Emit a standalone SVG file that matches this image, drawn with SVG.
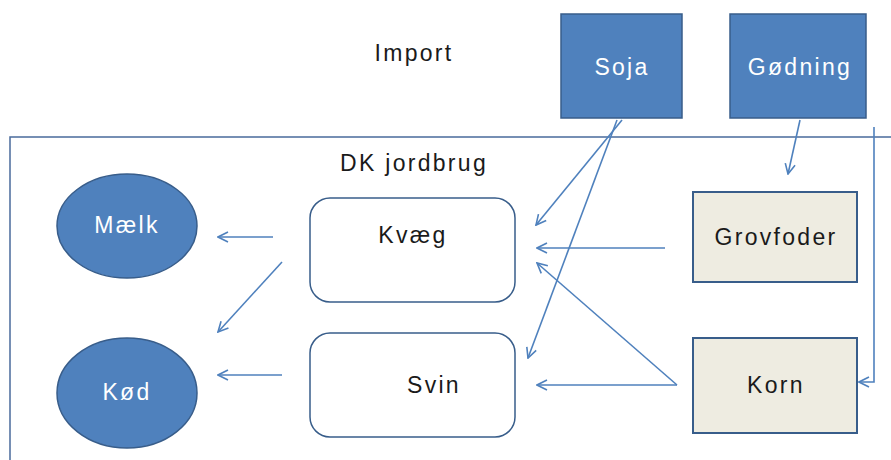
<svg xmlns="http://www.w3.org/2000/svg" width="891" height="460" viewBox="0 0 891 460">
<defs>
<style>
.t{font-family:"Liberation Sans",Arial,sans-serif;font-size:23px;letter-spacing:2.3px;text-anchor:middle;dominant-baseline:central}
.w{fill:#ffffff}
.k{fill:#1a1a1a}
.blue{fill:#4F81BD;stroke:#385D8A;stroke-width:1.5}
.beige{fill:#EEECE1;stroke:#385D8A;stroke-width:2}
.round{fill:#ffffff;stroke:#385D8A;stroke-width:1.5}
.c{fill:none;stroke:#4F81BD;stroke-width:1.6;marker-end:url(#ah)}
</style>
<marker id="ah" markerWidth="12" markerHeight="12" refX="11" refY="6" orient="auto" markerUnits="userSpaceOnUse">
<path d="M1,1 L11,6 L1,11" fill="none" stroke="#4F81BD" stroke-width="1.6"/>
</marker>
</defs>
<rect width="891" height="460" fill="#ffffff"/>
<g id="dk-jordbrug">
<rect x="10" y="137" width="900" height="340" fill="none" stroke="#4A6B9C" stroke-width="1.5"/>
<text class="t k" x="414" y="163">DK jordbrug</text>
</g>
<g id="import"><text class="t k" x="414" y="53">Import</text></g>
<g id="soja"><rect class="blue" x="561" y="14" width="121" height="104"/><text class="t w" x="622" y="67">Soja</text></g>
<g id="godning"><rect class="blue" x="730" y="14" width="136" height="104"/><text class="t w" x="800" y="67">Gødning</text></g>
<g id="maelk"><ellipse class="blue" cx="127" cy="226" rx="70" ry="52"/><text class="t w" x="127" y="225">Mælk</text></g>
<g id="kod"><ellipse class="blue" cx="127" cy="393" rx="70" ry="55"/><text class="t w" x="127" y="392">Kød</text></g>
<g id="kvaeg"><rect class="round" x="310" y="198" width="205" height="104" rx="20"/><text class="t k" x="413" y="235">Kvæg</text></g>
<g id="svin"><rect class="round" x="310" y="333" width="205" height="104" rx="20"/><text class="t k" x="434" y="385">Svin</text></g>
<g id="grovfoder"><rect class="beige" x="693" y="192" width="164" height="90"/><text class="t k" x="776" y="237">Grovfoder</text></g>
<g id="korn"><rect class="beige" x="693" y="338" width="164" height="95"/><text class="t k" x="776" y="385">Korn</text></g>
<g id="connectors">
<line class="c" x1="273" y1="237" x2="218" y2="237"/>
<line class="c" x1="282" y1="262" x2="218" y2="332"/>
<line class="c" x1="282" y1="375" x2="218" y2="375"/>
<line class="c" x1="665" y1="248" x2="537" y2="248"/>
<line class="c" x1="677" y1="385" x2="537" y2="263"/>
<line class="c" x1="677" y1="385" x2="537" y2="385"/>
<line class="c" x1="622" y1="120" x2="536" y2="225"/>
<line class="c" x1="617" y1="120" x2="528" y2="358"/>
<line class="c" x1="800" y1="120" x2="788" y2="174"/>
<polyline class="c" points="874,127 874,382 859,382"/>
</g>
</svg>
